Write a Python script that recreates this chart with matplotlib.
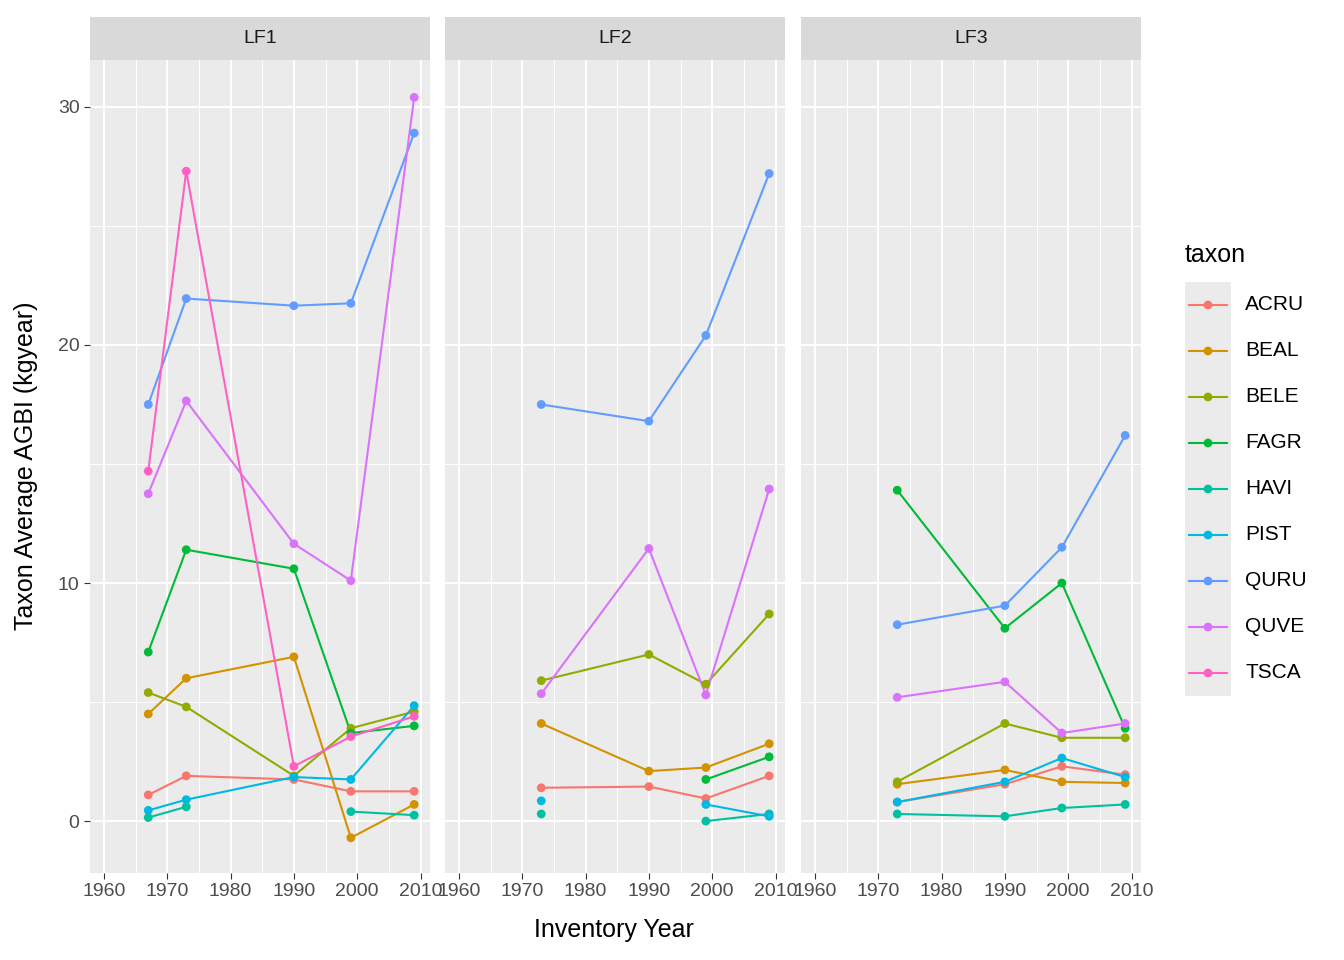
import numpy as np
import matplotlib
matplotlib.use("Agg")
import matplotlib.pyplot as plt

plt.rcParams['font.family'] = ['Liberation Sans', 'DejaVu Sans']

nan = np.nan
years = [1967, 1973, 1990, 1999, 2009]
taxa = ["ACRU", "BEAL", "BELE", "FAGR", "HAVI", "PIST", "QURU", "QUVE", "TSCA"]
colors = ["#F8766D", "#D39200", "#93AA00", "#00BA38", "#00C19F",
          "#00B9E3", "#619CFF", "#DB72FB", "#FF61C3"]

lf1 = {
    "ACRU": [1.1, 1.9, 1.75, 1.25, 1.25],
    "BEAL": [4.5, 6.0, 6.9, -0.7, 0.7],
    "BELE": [5.4, 4.8, 1.9, 3.9, 4.6],
    "FAGR": [7.1, 11.4, 10.6, 3.7, 4.0],
    "HAVI": [0.15, 0.6, nan, 0.4, 0.25],
    "PIST": [0.45, 0.9, 1.85, 1.75, 4.85],
    "QURU": [17.5, 21.95, 21.65, 21.75, 28.9],
    "QUVE": [13.75, 17.65, 11.65, 10.1, 30.4],
    "TSCA": [14.7, 27.3, 2.3, 3.55, 4.4],
}
lf2 = {
    "ACRU": [nan, 1.4, 1.45, 0.95, 1.9],
    "BEAL": [nan, 4.1, 2.1, 2.25, 3.25],
    "BELE": [nan, 5.9, 7.0, 5.75, 8.7],
    "FAGR": [nan, nan, nan, 1.75, 2.7],
    "HAVI": [nan, 0.3, nan, 0.0, 0.3],
    "PIST": [nan, 0.85, nan, 0.7, 0.2],
    "QURU": [nan, 17.5, 16.8, 20.4, 27.2],
    "QUVE": [nan, 5.35, 11.45, 5.3, 13.95],
}
lf3 = {
    "ACRU": [nan, 0.8, 1.55, 2.3, 1.95],
    "BEAL": [nan, 1.55, 2.15, 1.65, 1.6],
    "BELE": [nan, 1.65, 4.1, 3.5, 3.5],
    "FAGR": [nan, 13.9, 8.1, 10.0, 3.9],
    "HAVI": [nan, 0.3, 0.2, 0.55, 0.7],
    "PIST": [nan, 0.8, 1.65, 2.65, 1.85],
    "QURU": [nan, 8.25, 9.05, 11.5, 16.2],
    "QUVE": [nan, 5.2, 5.85, 3.7, 4.1],
}
panels = [("LF1", lf1), ("LF2", lf2), ("LF3", lf3)]

W, H = 1344, 960
fig = plt.figure(figsize=(W / 100, H / 100), dpi=100)
lefts = [90, 445, 801]
pw = 340
top, bot, strip_top = 60, 873, 17

for i, (name, data) in enumerate(panels):
    l = lefts[i]
    ax = fig.add_axes([l / W, 1 - bot / H, pw / W, (bot - top) / H])
    ax.set_facecolor("#EBEBEB")
    for s in ax.spines.values():
        s.set_visible(False)
    ax.set_xlim(1957.8, 2011.5)
    ax.set_ylim(-2.18, 31.97)
    ax.set_xticks([1960, 1970, 1980, 1990, 2000, 2010])
    ax.set_xticks([1965, 1975, 1985, 1995, 2005], minor=True)
    ax.set_yticks([0, 10, 20, 30])
    ax.set_yticks([5, 15, 25], minor=True)
    ax.grid(which="major", color="white", lw=1.4)
    ax.grid(which="minor", color="white", lw=0.7)
    ax.set_axisbelow(True)
    ax.tick_params(which="major", length=4, color="#333333", labelsize=14, labelcolor="#4D4D4D")
    ax.tick_params(which="minor", length=0)
    if i > 0:
        ax.tick_params(axis="y", length=0, labelleft=False)
    for t, c in zip(taxa, colors):
        if t in data:
            y = np.array(data[t], dtype=float)
            x = np.array(years, dtype=float)
            ax.plot(x, y, color=c, lw=1.5, zorder=3)
            ax.scatter(x, y, color=c, s=40, zorder=4, edgecolors="none")
    sax = fig.add_axes([l / W, 1 - top / H, pw / W, (top - strip_top) / H])
    sax.set_facecolor("#D9D9D9")
    sax.set_xticks([]); sax.set_yticks([])
    for s in sax.spines.values():
        s.set_visible(False)
    sax.text(0.5, 0.5, name, ha="center", va="center", fontsize=14, color="#1A1A1A",
             transform=sax.transAxes)

fig.text(614 / W, 1 - 930 / H, "Inventory Year", ha="center", va="center", fontsize=18)
fig.text(26 / W, 1 - 466 / H, "Taxon Average AGBI (kgyear)", ha="center", va="center",
         fontsize=18, rotation=90)

# legend
fig.text(1185 / W, 1 - 255 / H, "taxon", ha="left", va="center", fontsize=18)
lax = fig.add_axes([0, 0, 1, 1], facecolor="none")
lax.set_xlim(0, W); lax.set_ylim(H, 0); lax.axis("off")
for k, (t, c) in enumerate(zip(taxa, colors)):
    yc = 305 + k * 46
    lax.add_patch(plt.Rectangle((1185, yc - 23), 46, 46, color="#EBEBEB", lw=0))
    lax.plot([1189, 1227], [yc, yc], color=c, lw=1.5)
    lax.scatter([1208], [yc], color=c, s=40, edgecolors="none")
    lax.text(1245, yc, t, ha="left", va="center", fontsize=15)

fig.savefig("out.png", dpi=100)
